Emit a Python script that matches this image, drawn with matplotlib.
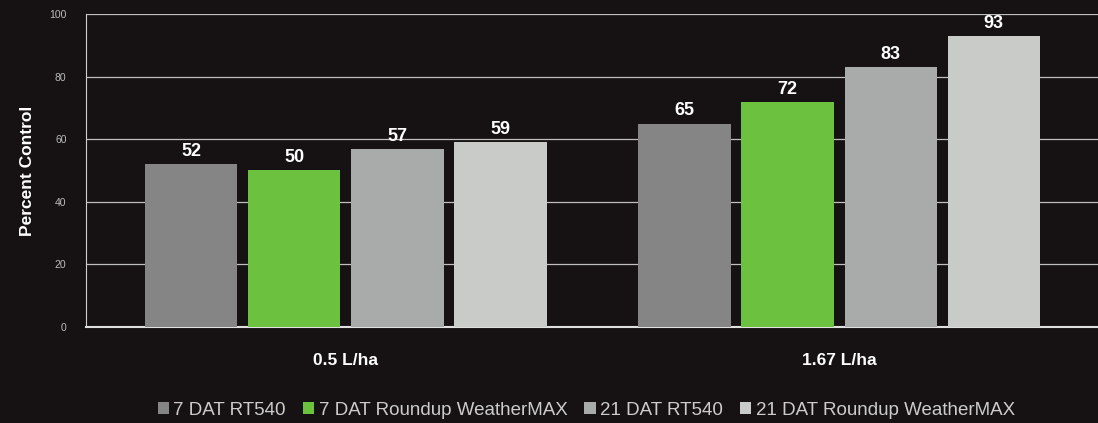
import matplotlib.pyplot as plt
import numpy as np

plt.rcParams["font.family"] = ["Liberation Sans", "DejaVu Sans"]

groups = ["0.5 L/ha", "1.67 L/ha"]
series = ["7 DAT RT540", "7 DAT Roundup WeatherMAX", "21 DAT RT540", "21 DAT Roundup WeatherMAX"]
values = [
    [52, 65],
    [50, 72],
    [57, 83],
    [59, 93],
]
colors = ["#858585", "#6cc23e", "#a9abab", "#c9cbc9"]
yticks = [0, 20, 40, 60, 80, 100]

bg = "#161213"
fig = plt.figure(figsize=(10.98, 4.23), dpi=100, facecolor=bg)
ax = fig.add_axes([86 / 1098, 1 - 327 / 423, 1 - 86 / 1098, 313 / 423])
ax.set_facecolor(bg)

x = np.arange(len(groups))
step = 0.209
width = 0.187
for i, (name, vals, c) in enumerate(zip(series, values, colors)):
    pos = x + (i - 1.5) * step
    bars = ax.bar(pos, vals, width, color=c, label=name, zorder=3)
    for b, v in zip(bars, vals):
        ax.text(b.get_x() + b.get_width() / 2, v + 1.3, str(v), ha="center", va="bottom",
                color="white", fontsize=13, fontweight="bold", zorder=4)

ax.set_xlim(-0.527, 1.525)
ax.set_ylim(0, 100)
ax.set_yticks(yticks)
ax.set_yticklabels([str(t) for t in yticks], color="#bbbbbb", fontsize=7.5)
ax.yaxis.grid(True, color="#bfbfbf", linewidth=0.9, zorder=1)
ax.tick_params(axis="y", length=0, pad=14)
ax.tick_params(axis="x", length=0, pad=19)
ax.set_xticks(x)
ax.set_xticklabels(groups, color="white", fontsize=12.5, fontweight="bold")
for s in ["top", "right"]:
    ax.spines[s].set_visible(False)
ax.spines["left"].set_color("#cfcfcf")
ax.spines["bottom"].set_color("#e0e0e0")
ax.spines["bottom"].set_linewidth(1.5)
ax.set_ylabel("Percent Control", color="white", fontsize=12.5, fontweight="bold", labelpad=10)

fig.legend(loc="lower center", bbox_to_anchor=(0.534, -0.03), ncol=4, frameon=False,
           fontsize=13.5, labelcolor="#cccccc", handlelength=0.6, handleheight=0.6,
           handletextpad=0.25, columnspacing=0.9)

fig.savefig("out.png", dpi=100, facecolor=bg)
